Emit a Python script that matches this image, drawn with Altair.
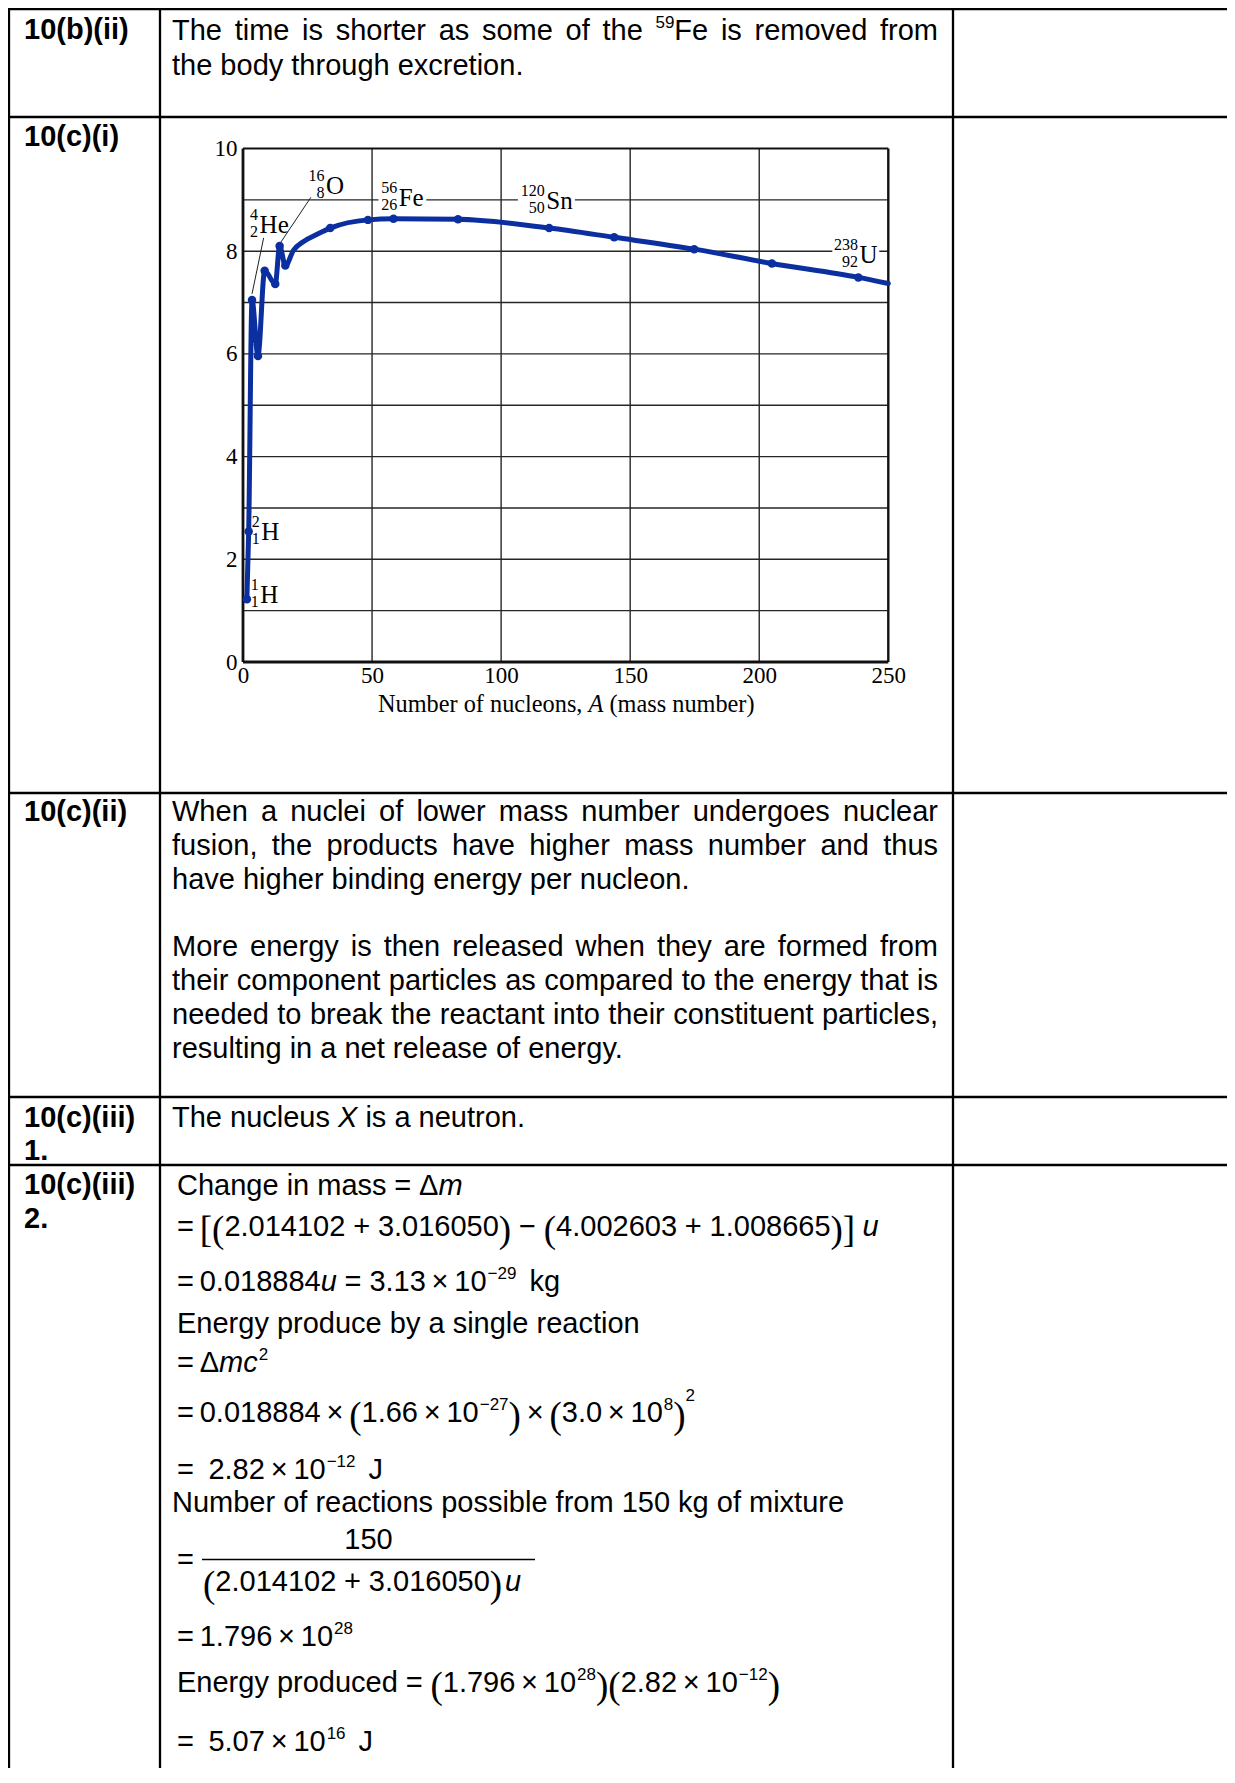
import re
import altair as alt
import pandas as pd

# ---------------- chart values ----------------
mass_number = [1.5, 2.2, 3.5, 5.8, 8.4, 12.5, 14.2, 16.4, 19.6, 23.5, 28.7, 33.8,
               48.4, 58.3, 83.3, 118.6, 143.8, 174.8, 204.9, 238.4, 250.0]
binding_energy = [1.22, 2.54, 7.05, 5.96, 7.62, 7.36, 8.10, 7.72, 8.02, 8.19, 8.33, 8.45,
                  8.61, 8.63, 8.62, 8.45, 8.27, 8.04, 7.76, 7.49, 7.37]
has_marker = [1, 1, 1, 1, 1, 1, 1, 1, 0, 0, 0, 1,
              1, 1, 1, 1, 1, 1, 1, 1, 0]

x_tick_values = [0, 50, 100, 150, 200, 250]
y_tick_values = [0, 2, 4, 6, 8, 10]
x_grid_values = [50, 100, 150, 200]
y_grid_values = [1, 2, 3, 4, 5, 6, 7, 8, 9]

iso_symbol = ["He", "O", "Fe", "Sn", "U", "H", "H"]
iso_mass = ["4", "16", "56", "120", "238", "2", "1"]
iso_z = ["2", "8", "26", "50", "92", "1", "1"]
iso_A = [6.43, 32.15, 60.3, 117.5, 238.8, 7.09, 6.70]
iso_E = [8.36, 9.11, 8.88, 8.82, 7.77, 2.38, 1.15]

leader_A = [26.3, 8.0]
leader_E = [9.05, 8.26]
leader_A2 = [14.2, 3.5]
leader_E2 = [8.14, 7.17]

gap_A = [52.5, 106.5, 228.3]
gap_A2 = [71.0, 128.6, 246.5]
gap_E = [8.80, 8.80, 7.75]
gap_E2 = [9.20, 9.25, 8.25]

axis_title_parts = ["Number of nucleons,", "A", "(mass number)"]

# ---------------- page text ----------------
row_labels = ["10(b)(ii)", "10(c)(i)", "10(c)(ii)", "10(c)(iii)", "1.", "10(c)(iii)", "2."]
para_b_ii = ["The time is shorter as some of the ^{59}Fe is removed from",
             "the body through excretion."]
para_c_ii = ["When a nuclei of lower mass number undergoes nuclear",
             "fusion, the products have higher mass number and thus",
             "have higher binding energy per nucleon.",
             "More energy is then released when they are formed from",
             "their component particles as compared to the energy that is",
             "needed to break the reactant into their constituent particles,",
             "resulting in a net release of energy."]
para_c_iii_1 = ["The nucleus *X* is a neutron."]
math_lines = [
    [("Change in mass", "r"), ("=", "op"), ("Δ", "r"), ("m", "i")],
    [("=", "eq0"), ("[", "big"), ("(", "big"), ("2.014102", "r"), ("+", "op"), ("3.016050", "r"),
     (")", "big"), ("−", "op"), ("(", "big"), ("4.002603", "r"), ("+", "op"), ("1.008665", "r"),
     (")", "big"), ("]", "big"), ("0.25", "gap"), ("u", "i")],
    [("=", "eq0"), ("0.018884", "r"), ("u", "i"), ("=", "op"), ("3.13", "r"), ("×", "op"),
     ("10", "r"), ("−29", "sup"), ("0.45", "gap"), ("kg", "r")],
    [("Energy produce by a single reaction", "r")],
    [("=", "eq0"), ("Δ", "r"), ("mc", "i"), ("2", "sup")],
    [("=", "eq0"), ("0.018884", "r"), ("×", "op"), ("(", "big"), ("1.66", "r"), ("×", "op"),
     ("10", "r"), ("−27", "sup"), (")", "big"), ("×", "op"), ("(", "big"), ("3.0", "r"),
     ("×", "op"), ("10", "r"), ("8", "sup"), (")", "big"), ("2", "sup2")],
    [("=", "eq0"), ("0.3", "gap"), ("2.82", "r"), ("×", "op"), ("10", "r"), ("−12", "sup"),
     ("0.45", "gap"), ("J", "r")],
]
reactions_line = "Number of reactions possible from 150 kg of mixture"
fraction_num = "150"
fraction_den = [("(", "big"), ("2.014102", "r"), ("+", "op"), ("3.016050", "r"), (")", "big"),
                ("0.1", "gap"), ("u", "i")]
math_lines_2 = [
    [("=", "eq0"), ("1.796", "r"), ("×", "op"), ("10", "r"), ("28", "sup")],
    [("Energy produced", "r"), ("=", "op"), ("(", "big"), ("1.796", "r"), ("×", "op"), ("10", "r"),
     ("28", "sup"), (")", "big"), ("(", "big"), ("2.82", "r"), ("×", "op"), ("10", "r"),
     ("−12", "sup"), (")", "big")],
    [("=", "eq0"), ("0.3", "gap"), ("5.07", "r"), ("×", "op"), ("10", "r"), ("16", "sup"),
     ("0.45", "gap"), ("J", "r")],
]

# ---------------- layout ----------------
M = 8
W, H = 1219, 1760
FS = 29.0
SUP = 17.0
BIG = 37.0
OPSP = {'×': 0.2}
OPSP_DEFAULT = 0.27
BODY_X, BODY_R = 172.0, 938.0
MATH_X = 177.0
BLUE = "#0b2f9f"

REG = {' ': 278, '(': 333, ')': 333, '+': 584, ',': 278, '-': 333, '.': 278, '=': 584,
       '[': 278, ']': 278, '×': 584, '−': 584, 'Δ': 668,
       'A': 667, 'B': 667, 'C': 722, 'D': 722, 'E': 667, 'F': 611, 'G': 778, 'H': 722, 'I': 278,
       'J': 500, 'K': 667, 'L': 556, 'M': 833, 'N': 722, 'O': 778, 'P': 667, 'Q': 778, 'R': 722,
       'S': 667, 'T': 611, 'U': 722, 'V': 667, 'W': 944, 'X': 667, 'Y': 667, 'Z': 611,
       'a': 556, 'b': 556, 'c': 500, 'd': 556, 'e': 556, 'f': 278, 'g': 556, 'h': 556, 'i': 222,
       'j': 222, 'k': 500, 'l': 222, 'm': 833, 'n': 556, 'o': 556, 'p': 556, 'q': 556, 'r': 333,
       's': 500, 't': 278, 'u': 556, 'v': 500, 'w': 722, 'x': 500, 'y': 500, 'z': 500}
TIMES = {' ': 250, 'N': 722, 'u': 500, 'm': 778, 'b': 500, 'e': 444, 'r': 333, 'o': 500, 'f': 333,
         'n': 500, 'c': 444, 'l': 278, 's': 389, ',': 250, 'A': 611, '(': 333, ')': 333, 'a': 444,
         '[': 333, ']': 333}


def wid(text, size, table=REG):
    return sum(table.get(c, 556) for c in text) * size / 1000.0


pieces = []


def put(x, y, t, s, st):
    pieces.append(dict(x=x - M, y=y - M, t=t, s=s, st=st))


def parse_word(w):
    segs = []
    for part in re.split(r'(\^\{[^}]*\}|\*[^*]+\*)', w):
        if not part:
            continue
        if part.startswith('^{'):
            segs.append((part[2:-1], 'sup'))
        elif part.startswith('*'):
            segs.append((part[1:-1], 'i'))
        else:
            segs.append((part, 'r'))
    return segs


def seg_w(t, k):
    return wid(t, SUP) if k == 'sup' else wid(t, FS)


def para_line(text, base, justify, x0=BODY_X, x1=BODY_R):
    words = [parse_word(w) for w in text.split(' ')]
    widths = [sum(seg_w(t, k) for t, k in ws) for ws in words]
    space = wid(' ', FS)
    if justify and len(words) > 1:
        space = (x1 - x0 - sum(widths)) / (len(words) - 1)
    x = x0
    for ws, w in zip(words, widths):
        xx = x
        for t, k in ws:
            if k == 'sup':
                put(xx, base - 12, t, SUP, 'r')
            else:
                put(xx, base, t, FS, k)
            xx += seg_w(t, k)
        x += w + space


def math_line(x, base, toks):
    for t, k in toks:
        if k in ('r', 'i'):
            put(x, base, t, FS, k)
            x += wid(t, FS)
        elif k == 'op':
            pad = OPSP.get(t, OPSP_DEFAULT) * FS
            x += pad
            put(x, base, t, FS, 'r')
            x += wid(t, FS) + pad
        elif k == 'eq0':
            put(x, base, t, FS, 'r')
            x += wid(t, FS) + 0.2 * FS
        elif k == 'sup':
            x += 1
            put(x, base - 12, t, SUP, 'r')
            x += wid(t, SUP)
        elif k == 'sup2':
            put(x, base - 21, t, SUP, 'r')
            x += wid(t, SUP)
        elif k == 'big':
            put(x, base + 6, t, BIG, 'p')
            x += wid(t, BIG, TIMES)
        elif k == 'gap':
            x += float(t) * FS
    return x


# labels column
label_base = [39, 146, 820.5, 1126.5, 1159.5, 1194, 1228]
for lab, b in zip(row_labels, label_base):
    put(24, b, lab, FS, 'b')

# paragraphs
for line, b, j in zip(para_b_ii, [40, 75], [True, False]):
    para_line(line, b, j)
c_ii_base = [820.5, 855, 889, 955.5, 989.5, 1023.5, 1057.5]
c_ii_just = [True, True, False, True, True, True, False]
for line, b, j in zip(para_c_ii, c_ii_base, c_ii_just):
    para_line(line, b, j)
para_line(para_c_iii_1[0], 1126.5, False)

# calculation
for toks, b in zip(math_lines, [1195, 1236, 1291, 1333, 1372, 1422, 1479]):
    math_line(MATH_X, b, toks)
para_line(reactions_line, 1512, False)
put(MATH_X, 1569, "=", FS, 'r')
FR_X0, FR_X1, FR_Y = 202.0, 535.0, 1559.5
put((FR_X0 + FR_X1) / 2 - wid(fraction_num, FS) / 2, 1549, fraction_num, FS, 'r')
math_line(FR_X0 + 1, 1591, fraction_den)
for toks, b in zip(math_lines_2, [1646, 1692, 1751]):
    math_line(MATH_X, b, toks)

text_df = pd.DataFrame(pieces)

# table rules (page coordinates)
row_y = [9, 117, 793, 1097, 1165]
col_x = [9, 160, 953]
rules = []
for y in row_y:
    rules.append(dict(x=0, x2=W, y=y - M, y2=y - M, w=2.3))
for x in col_x:
    rules.append(dict(x=x - M, x2=x - M, y=0, y2=H, w=2.3))
rules.append(dict(x=FR_X0 - M, x2=FR_X1 - M, y=FR_Y - M, y2=FR_Y - M, w=1.3))
rules_df = pd.DataFrame(rules)

# axis title pieces (serif)
TS = 24.3
tx = 378.0
title_rows = []
for part, st in zip(axis_title_parts, ['r', 'i', 'r']):
    title_rows.append(dict(x=tx - M, y=711.5 - M, t=part, s=TS, st=st))
    tx += wid(part, TS, TIMES) + wid(' ', TS, TIMES)
title_df = pd.DataFrame(title_rows)

# ---------------- layers ----------------
PX = dict(scale=None, axis=None)


def page_text(df, st, font, style='normal', weight='normal'):
    return alt.Chart(df[df.st == st]).mark_text(
        align='left', baseline='alphabetic', font=font, fontStyle=style,
        fontWeight=weight, color='black'
    ).encode(
        x=alt.X('x:Q', **PX), y=alt.Y('y:Q', **PX), text='t:N',
        size=alt.Size('s:Q', scale=None, legend=None)
    )


page_rules = alt.Chart(rules_df).mark_rule(color='black').encode(
    x=alt.X('x:Q', **PX), x2='x2:Q', y=alt.Y('y:Q', **PX), y2='y2:Q',
    strokeWidth=alt.StrokeWidth('w:Q', scale=None, legend=None)
)

xs = alt.Scale(domain=[0, 250], range=[243 - M, 888.3 - M], nice=False, zero=False)
ys = alt.Scale(domain=[0, 10], range=[662 - M, 148.5 - M], nice=False, zero=False)

grid_h_df = pd.DataFrame({'E': y_grid_values, 'A0': 0, 'A1': 250})
grid_v_df = pd.DataFrame({'A': x_grid_values, 'E0': 0, 'E1': 10})
grid_h = alt.Chart(grid_h_df).mark_rule(color='#262626', strokeWidth=1.4).encode(
    x=alt.X('A0:Q', scale=xs, axis=None), x2='A1:Q', y=alt.Y('E:Q', scale=ys, axis=None))
grid_v = alt.Chart(grid_v_df).mark_rule(color='#262626', strokeWidth=1.4).encode(
    x=alt.X('A:Q', scale=xs, axis=None), y=alt.Y('E0:Q', scale=ys, axis=None), y2='E1:Q')

gaps_df = pd.DataFrame({'A': gap_A, 'A2': gap_A2, 'E': gap_E, 'E2': gap_E2})
gaps = alt.Chart(gaps_df).mark_rect(color='white').encode(
    x=alt.X('A:Q', scale=xs, axis=None), x2='A2:Q',
    y=alt.Y('E:Q', scale=ys, axis=None), y2='E2:Q')

frame_df = pd.DataFrame({'A': [0, 0, 0, 250], 'A2': [0, 250, 250, 250],
                         'E': [0, 0, 10, 0], 'E2': [10, 0, 10, 10],
                         'w': [2.8, 2.8, 2.0, 2.4]})
frame = alt.Chart(frame_df).mark_rule(color='#111111').encode(
    x=alt.X('A:Q', scale=xs, axis=None), x2='A2:Q',
    y=alt.Y('E:Q', scale=ys, axis=None), y2='E2:Q',
    strokeWidth=alt.StrokeWidth('w:Q', scale=None, legend=None))

curve_df = pd.DataFrame({'A': mass_number, 'E': binding_energy, 'm': has_marker})
curve = alt.Chart(curve_df).mark_line(
    color=BLUE, strokeWidth=5, interpolate='monotone', strokeJoin='round', strokeCap='round'
).encode(
    x=alt.X('A:Q', scale=xs, axis=alt.Axis(
        orient='bottom', offset=(662 - M) - H, values=x_tick_values, title=None, grid=False,
        ticks=False, domain=False, labelFont='Liberation Serif', labelFontSize=23,
        labelColor='black', labelPadding=2, labelFlush=False, labelOverlap=False)),
    y=alt.Y('E:Q', scale=ys, axis=alt.Axis(
        orient='left', offset=-(243 - M), values=y_tick_values, title=None, grid=False,
        ticks=False, domain=False, labelFont='Liberation Serif', labelFontSize=23,
        labelColor='black', labelPadding=6, labelOverlap=False)),
    order='A:Q'
)
points = alt.Chart(curve_df[curve_df.m == 1]).mark_circle(size=72, color=BLUE, opacity=1).encode(
    x=alt.X('A:Q', scale=xs, axis=None), y=alt.Y('E:Q', scale=ys, axis=None))

leaders_df = pd.DataFrame({'A': leader_A, 'E': leader_E, 'A2': leader_A2, 'E2': leader_E2})
leaders = alt.Chart(leaders_df).mark_rule(color='#222222', strokeWidth=1).encode(
    x=alt.X('A:Q', scale=xs, axis=None), x2='A2:Q',
    y=alt.Y('E:Q', scale=ys, axis=None), y2='E2:Q')

iso_df = pd.DataFrame({'A': iso_A, 'E': iso_E, 'sym': iso_symbol, 'mass': iso_mass, 'z': iso_z})
iso_main = alt.Chart(iso_df).mark_text(
    font='Liberation Serif', fontSize=25, align='left', baseline='alphabetic', color='black'
).encode(x=alt.X('A:Q', scale=xs, axis=None), y=alt.Y('E:Q', scale=ys, axis=None), text='sym:N')
iso_sup = alt.Chart(iso_df).mark_text(
    font='Liberation Serif', fontSize=16, align='right', baseline='alphabetic', color='black',
    dx=-1.5, dy=-13
).encode(x=alt.X('A:Q', scale=xs, axis=None), y=alt.Y('E:Q', scale=ys, axis=None), text='mass:N')
iso_sub = alt.Chart(iso_df).mark_text(
    font='Liberation Serif', fontSize=16, align='right', baseline='alphabetic', color='black',
    dx=-1.5, dy=4
).encode(x=alt.X('A:Q', scale=xs, axis=None), y=alt.Y('E:Q', scale=ys, axis=None), text='z:N')

layers = [
    page_rules,
    page_text(text_df, 'r', 'Liberation Sans'),
    page_text(text_df, 'i', 'Liberation Sans', style='italic'),
    page_text(text_df, 'b', 'Liberation Sans', weight='bold'),
    page_text(text_df, 'p', 'Liberation Serif'),
    page_text(title_df, 'r', 'Liberation Serif'),
    page_text(title_df, 'i', 'Liberation Serif', style='italic'),
    grid_h, grid_v, gaps, frame, leaders, curve, points, iso_main, iso_sup, iso_sub,
]

chart = alt.layer(*layers).resolve_scale(
    x='independent', y='independent'
).properties(
    width=W, height=H, padding=0, background='white',
    autosize=alt.AutoSizeParams(type='none')
).configure_view(strokeWidth=0)

chart.save("out.html", embed_options={"renderer": "svg", "actions": False})
